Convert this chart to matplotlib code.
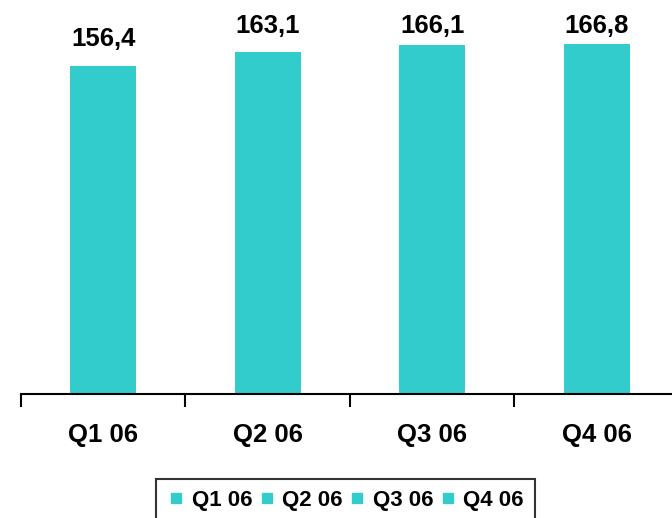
import matplotlib.pyplot as plt
from matplotlib.lines import Line2D

quarters = ["Q1 06", "Q2 06", "Q3 06", "Q4 06"]
values = [156.4, 163.1, 166.1, 166.8]
labels = ["156,4", "163,1", "166,1", "166,8"]

teal = "#33CCCC"
plt.rcParams["font.family"] = ["Liberation Sans", "DejaVu Sans"]
plt.rcParams["font.weight"] = "bold"

fig = plt.figure(figsize=(6.72, 5.18), dpi=100)
ax = fig.add_axes([21 / 672, 124 / 518, 658 / 672, 394 / 518])

x = list(range(len(quarters)))
ax.bar(x, values, width=0.4, color=teal, zorder=2)

# value labels sit above the bars but are held below the top edge
for xi, v, s in zip(x, values, labels):
    y = min(v + 9.5, 172)
    ax.text(xi, y, s, ha="center", va="baseline", fontsize=18.5,
            fontweight="bold", clip_on=False)

ax.set_xlim(-0.5, 3.5)
ax.set_ylim(0, 187.7)

for side in ["top", "right", "left"]:
    ax.spines[side].set_visible(False)
ax.spines["bottom"].set_linewidth(1.5)
ax.set_yticks([])

ax.set_xticks([-0.5, 0.5, 1.5, 2.5, 3.5])
ax.set_xticklabels([])
ax.tick_params(axis="x", which="major", length=9, width=1.5, direction="out")
ax.set_xticks(x, minor=True)
ax.set_xticklabels(quarters, minor=True, fontsize=18.5, fontweight="bold")
ax.tick_params(axis="x", which="minor", length=0, pad=21)

handles = [Line2D([], [], linestyle="none", marker="s", markersize=6.5,
                  color=teal) for _ in quarters]
leg = fig.legend(handles, quarters, loc="upper left",
                 bbox_to_anchor=(156 / 672, 1 - 479 / 518),
                 bbox_transform=fig.transFigure, ncol=4, frameon=True,
                 fancybox=False, edgecolor="black",
                 prop={"size": 16, "weight": "bold"},
                 handlelength=0.8, handletextpad=0.3, columnspacing=0.25,
                 borderpad=0.5, borderaxespad=0)
leg.get_frame().set_linewidth(1.5)

fig.savefig("out.png", dpi=100)
